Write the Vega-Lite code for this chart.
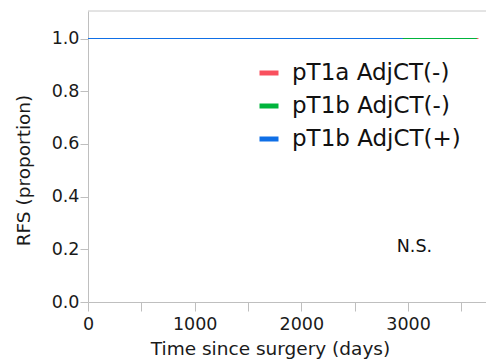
{
  "$schema": "https://vega.github.io/schema/vega-lite/v6.json",
  "width": 398,
  "height": 291,
  "autosize": {"type": "none"},
  "padding": {"left": 88, "top": 11, "right": 0, "bottom": 59},
  "background": "white",
  "config": {
    "font": "DejaVu Sans",
    "view": {"stroke": null},
    "axis": {"domainColor": "#bfbfbf", "tickColor": "#bfbfbf", "grid": false, "labelColor": "#1a1a1a", "titleColor": "#1a1a1a", "titleFontWeight": "normal"}
  },
  "layer": [
    {
      "data": {"values": [{"t": 0}]},
      "mark": {"type": "rule", "color": "#c8c8c8", "strokeWidth": 1},
      "encoding": {"y": {"datum": 1.1044, "type": "quantitative", "scale": {"domain": [0, 1.1044]}}}
    },
    {
      "data": {"values": [{"x": 0}]},
      "mark": {"type": "text", "text": "N.S.", "fontSize": 17.5, "color": "#111111", "align": "center", "baseline": "middle"},
      "encoding": {
        "x": {"datum": 3060, "type": "quantitative"},
        "y": {"datum": 0.21, "type": "quantitative"}
      }
    },
    {
      "data": {"values": [
        {"group": "pT1a AdjCT(-)", "days": 0, "rfs": 1.0},
        {"group": "pT1a AdjCT(-)", "days": 3660, "rfs": 1.0},
        {"group": "pT1b AdjCT(-)", "days": 0, "rfs": 1.0},
        {"group": "pT1b AdjCT(-)", "days": 3645, "rfs": 1.0},
        {"group": "pT1b AdjCT(+)", "days": 0, "rfs": 1.0},
        {"group": "pT1b AdjCT(+)", "days": 2950, "rfs": 1.0}
      ]},
      "mark": {"type": "line", "strokeWidth": 1, "interpolate": "step-after"},
      "encoding": {
        "x": {
          "field": "days", "type": "quantitative",
          "scale": {"domain": [0, 3731], "nice": false},
          "axis": {
            "title": "Time since surgery (days)",
            "titleFontSize": 18.5, "titlePadding": 7, "titleX": 182,
            "values": [0, 250, 500, 750, 1000, 1250, 1500, 1750, 2000, 2250, 2500, 2750, 3000, 3250, 3500],
            "labelExpr": "datum.value % 1000 === 0 ? format(datum.value, 'd') : ''",
            "labelFontSize": 17.5, "labelPadding": 4, "labelFlush": false,
            "tickSize": {"condition": {"test": "datum.value % 500 === 0", "value": 9}, "value": 5}
          }
        },
        "y": {
          "field": "rfs", "type": "quantitative",
          "scale": {"domain": [0, 1.1044], "nice": false},
          "axis": {
            "title": "RFS (proportion)",
            "titleFontSize": 18.5, "titlePadding": 18, "titleY": 159,
            "values": [0, 0.1, 0.2, 0.3, 0.4, 0.5, 0.6, 0.7, 0.8, 0.9, 1.0],
            "labelExpr": "round(datum.value * 10) % 2 === 0 ? format(datum.value, '.1f') : ''",
            "labelFontSize": 17.5, "labelPadding": 1, "tickSize": 8
          }
        },
        "color": {
          "field": "group", "type": "nominal",
          "scale": {"domain": ["pT1a AdjCT(-)", "pT1b AdjCT(-)", "pT1b AdjCT(+)"], "range": ["#f9505e", "#00b43c", "#0f6fe6"]},
          "legend": {
            "title": null, "orient": "none", "legendX": 169, "legendY": 50,
            "symbolType": "stroke", "symbolSize": 361, "symbolStrokeWidth": 5, "symbolOpacity": 1,
            "labelFontSize": 23, "labelOffset": 11, "rowPadding": 9, "padding": 0, "labelLimit": 400,
            "labelColor": "#111111"
          }
        }
      }
    }
  ]
}
